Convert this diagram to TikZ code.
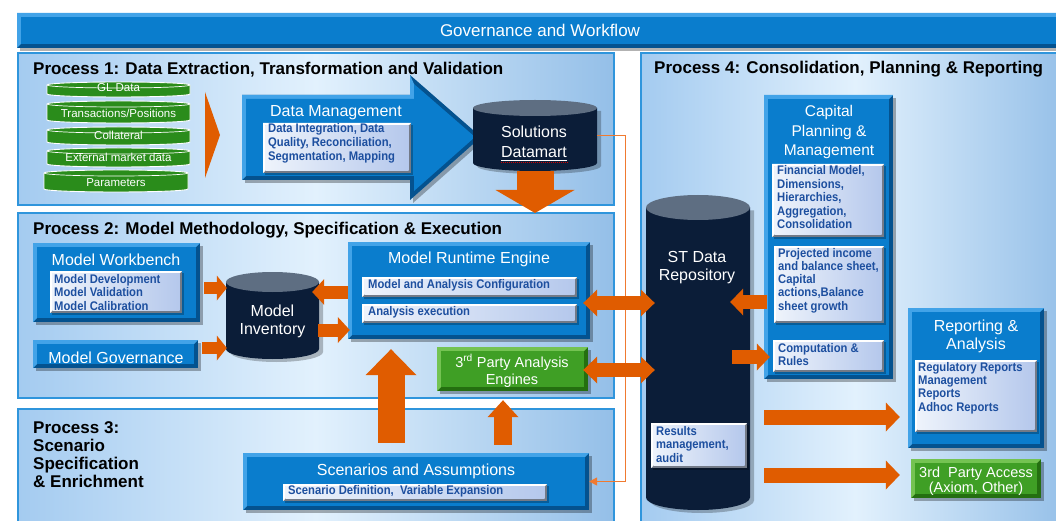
\documentclass[tikz,border=0pt]{standalone}
\usepackage{fontspec}
\setmainfont{Liberation Sans}
\newfontfamily\narrowfam[FakeStretch=0.9]{Liberation Sans}
\usetikzlibrary{arrows.meta,calc}

\definecolor{bbface}{HTML}{0A7DCD}
\definecolor{bblight}{HTML}{42A3E8}
\definecolor{bbdark}{HTML}{04528F}
\definecolor{pnlborder}{HTML}{2F95DC}
\definecolor{pnlL}{HTML}{A4CBF0}
\definecolor{pnlM}{HTML}{E2F1FD}
\definecolor{pnlR}{HTML}{94BFE8}
\definecolor{navy}{HTML}{0B1D38}
\definecolor{cyltop}{HTML}{5E6E82}
\definecolor{discgreen}{HTML}{2A8C1B}
\definecolor{gface}{HTML}{3F9F25}
\definecolor{glight}{HTML}{74C352}
\definecolor{gdark}{HTML}{246F10}
\definecolor{orarrow}{HTML}{E05C00}
\definecolor{thinor}{HTML}{F07A30}
\definecolor{inktext}{HTML}{1D4F9F}
\definecolor{lbL}{HTML}{EEF3FB}
\definecolor{lbR}{HTML}{B5C8EC}
\definecolor{lbdark}{HTML}{737A87}

% bevelled box: name x1 y1 x2 y2 light face dark
\newcommand\bevbox[8]{%
  \fill[black,opacity=.3] ({#2+3},{#3+3}) rectangle ({#4+3},{#5+3});
  \fill[#8] (#2,#3) rectangle (#4,#5);
  \fill[#6] (#2,#3) -- (#4,#3) -- ({#4-4},{#3+4}) -- ({#2+4},{#3+4}) -- ({#2+4},{#5-4}) -- (#2,#5) -- cycle;
  \fill[#7] ({#2+4},{#3+4}) rectangle ({#4-4},{#5-4});
  \node[inner sep=0pt, minimum width={(#4-#2)*1pt}, minimum height={(#5-#3)*1pt}] (#1) at ({(#2+#4)/2},{(#3+#5)/2}) {};
}
\newcommand\bluebox[5]{\bevbox{#1}{#2}{#3}{#4}{#5}{bblight}{bbface}{bbdark}}
\newcommand\greenbox[5]{\bevbox{#1}{#2}{#3}{#4}{#5}{glight}{gface}{gdark}}
% light inner box
\newcommand\litebox[5]{%
  \fill[black,opacity=.25] ({#2+2},{#3+2}) rectangle ({#4+2},{#5+2});
  \fill[lbdark] (#2,#3) rectangle (#4,#5);
  \fill[white] (#2,#3) -- (#4,#3) -- ({#4-2.5},{#3+2.5}) -- ({#2+2.5},{#3+2.5}) -- ({#2+2.5},{#5-2.5}) -- (#2,#5) -- cycle;
  \shade[left color=lbL, right color=lbR] ({#2+2.5},{#3+2.5}) rectangle ({#4-2.5},{#5-2.5});
  \node[inner sep=0pt, minimum width={(#4-#2)*1pt}, minimum height={(#5-#3)*1pt}] (#1) at ({(#2+#4)/2},{(#3+#5)/2}) {};
}
% cylinder: name cx ytop rx ybot ry
\newcommand\mycyl[6]{%
  \fill[black,opacity=.25] ({#2-#4+4},{#3+#6+3}) -- ({#2-#4+4},{#5-#6+3}) arc[start angle=180,end angle=360,x radius=#4pt,y radius=#6pt] -- ({#2+#4+4},{#3+#6+3}) -- cycle;
  \fill[navy] ({#2-#4},{#3+#6}) -- ({#2-#4},{#5-#6}) arc[start angle=180,end angle=360,x radius=#4pt,y radius=#6pt] -- ({#2+#4},{#3+#6}) -- cycle;
  \fill[cyltop] (#2,{#3+#6}) ellipse[x radius=#4pt, y radius=#6pt];
  \node[inner sep=0pt, minimum width={2*#4*1pt}, minimum height={(#5-#3)*1pt}] (#1) at (#2,{(#3+#5)/2}) {};
}
% data disc: name x1 y1 x2 y2 rx text
\newcommand\disc[7]{%
  \filldraw[fill=discgreen, draw=white, line width=0.9pt] (#2,{#3+3}) -- (#2,{#5-3}) arc[start angle=180,end angle=360,x radius=#6pt,y radius=3pt] -- (#4,{#3+3}) arc[start angle=0,end angle=180,x radius=#6pt,y radius=3pt] -- cycle;
  \draw[white, line width=.7pt] (#2,{#3+3}) arc[start angle=180,end angle=360,x radius=#6pt,y radius=3pt];
  \node[anchor=base, inner sep=0pt, text=white, font=\fontsize{11.5}{13}\selectfont] (#1) at ({(#2+#4)/2},{#5-5}) {#7};
}
% panel
\newcommand\panel[5]{%
  \shade[left color=pnlL, right color=pnlR, middle color=pnlM] (#2,#3) rectangle (#4,#5);
  \draw[pnlborder, line width=2pt] (#2,#3) rectangle (#4,#5);
  \node[inner sep=0pt, minimum width={(#4-#2)*1pt}, minimum height={(#5-#3)*1pt}] (#1) at ({(#2+#4)/2},{(#3+#5)/2}) {};
}
% lines of text: name x firstbaseline dy style list
\newcommand\txtlines[6]{%
  \foreach \tl [count=\ti from 0] in {#6} {
    \node[anchor=base, inner sep=0pt, #5] (#1\ti) at (#2,{#3+\ti*#4}) {\tl};
  }}

\tikzset{
  ttl/.style={text=white, font=\fontsize{16}{18}\selectfont},
  ttlsm/.style={text=white, font=\fontsize{14.5}{16}\selectfont},
  ttlcap/.style={text=white, font=\fontsize{15.5}{17}\selectfont},
  inner/.style={anchor=base west, inner sep=0pt, text=inktext, font=\narrowfam\bfseries\fontsize{12.5}{13.5}\selectfont},
  ptitle/.style={anchor=base west, inner sep=0pt, text=black, font=\bfseries\fontsize{17}{18}\selectfont},
  fat/.style n args={3}{draw=orarrow, line width=#1pt, -{Triangle[width=#2pt,length=#3pt,line width=0pt]}},
  fatboth/.style n args={3}{draw=orarrow, line width=#1pt, {Triangle[width=#2pt,length=#3pt,line width=0pt]}-{Triangle[width=#2pt,length=#3pt,line width=0pt]}},
}

\begin{document}
\begin{tikzpicture}[x=1pt,y=-1pt]
\useasboundingbox (0,0) rectangle (1056,521);
\fill[white] (0,0) rectangle (1056,521);

% ---------- panels ----------
\panel{p1}{18}{53}{614}{205}
\panel{p2}{18}{213}{614}{398}
\panel{p3}{18}{409}{614}{540}
\panel{p4}{641}{53}{1070}{540}

% ---------- governance bar ----------
\bevbox{gov}{17}{13}{1070}{48}{bblight}{bbface}{bbdark}
\node[anchor=base, inner sep=0pt, text=white, font=\fontsize{17}{19}\selectfont] (govt) at (540,37) {Governance and Workflow};

% ---------- titles ----------
\node[ptitle] (p1t) at (33,75) {Process 1: Data Extraction, Transformation and Validation};
\node[ptitle] (p2t) at (33,234) {Process 2: Model Methodology, Specification \& Execution};
\txtlines{p3t}{33}{433}{18}{ptitle}{{Process 3:},Scenario,Specification,{\& Enrichment}}
\node[ptitle] (p4t) at (654,74) {Process 4: Consolidation, Planning \& Reporting};

% ---------- Process 1 ----------
\disc{d1}{47}{82}{190}{97}{71.5}{GL Data}
\disc{d2}{47}{101}{190}{123}{71.5}{Transactions/Positions}
\disc{d3}{47}{127}{190}{145}{71.5}{Collateral}
\disc{d4}{47}{148}{190}{167}{71.5}{External market data}
\disc{d5}{44}{170}{188}{192}{72}{Parameters}
\fill[orarrow] (205,92) -- (220,135) -- (205,178) -- cycle;

% Data Management block arrow
\fill[black,opacity=.3] (245,98) -- (413,98) -- (413,78) -- (484,140) -- (413,203) -- (413,183) -- (245,183) -- cycle;
\fill[bbdark] (242,95) -- (410,95) -- (410,75) -- (481,137) -- (410,200) -- (410,180) -- (242,180) -- cycle;
\fill[bblight] (242,95) -- (410,95) -- (410,75) -- (414,84) -- (414,99) -- (246,99) -- (246,176) -- (242,180) -- cycle;
\fill[bbface] (246,99) -- (414,99) -- (414,84) -- (475,137) -- (414,191) -- (414,176) -- (246,176) -- cycle;
\node[inner sep=0pt, minimum width=239pt, minimum height=125pt] (dm) at (361.5,137.5) {};
\node[anchor=base, inner sep=0pt, ttl] (dmt) at (336,117) {Data Management};
\litebox{dmi}{263}{123}{411}{173}
\txtlines{dmil}{268}{133}{14}{inner}{{Data Integration, Data},{Quality, Reconciliation,},{Segmentation, Mapping}}

% Solutions Datamart
\mycyl{sdm}{535}{100}{62}{171}{8}
\txtlines{sdmt}{534}{138}{20}{ttl}{Solutions,Datamart}
\draw[white, line width=.7pt] ($(sdmt1.base west)+(0,2)$) -- ($(sdmt1.base east)+(0,2)$);
\draw[red!80!black, line width=1pt, dash pattern=on 1pt off 1pt] ($(sdmt1.base west)+(0,4.5)$) -- ($(sdmt1.base east)+(0,4.5)$);

% ---------- Process 2 ----------
\bluebox{wb}{33}{243}{200}{322}
\node[anchor=base, inner sep=0pt, ttl] (wbt) at (116,265) {Model Workbench};
\litebox{wbi}{50}{271}{182}{313}
\txtlines{wbil}{54}{283}{13.5}{inner}{{Model Development},{Model Validation},{Model Calibration}}
\bluebox{mg}{33}{340}{198}{368}
\node[anchor=base, inner sep=0pt, ttl] (mgt) at (116,363) {Model Governance};
\mycyl{inv}{272.5}{272}{46.5}{359}{10}
\txtlines{invt}{272.5}{316}{18}{ttl}{Model,Inventory}
\bluebox{mre}{348}{242}{590}{339}
\node[anchor=base, inner sep=0pt, ttl] (mret) at (469,263) {Model Runtime Engine};
\litebox{mre1}{362}{277}{577}{297}
\node[inner] (mre1t) at (368,288) {Model and Analysis Configuration};
\litebox{mre2}{362}{304}{577}{323}
\node[inner] (mre2t) at (368,315) {Analysis execution};
\greenbox{tpa}{437}{347}{588}{391}
\txtlines{tpat}{512}{367}{17}{ttlsm}{{3\textsuperscript{rd} Party Analysis},Engines}

% ---------- Process 3 ----------
\bluebox{sc}{243}{453}{589}{510}
\node[anchor=base, inner sep=0pt, ttl] (sct) at (416,475) {Scenarios and Assumptions};
\litebox{sci}{283}{484}{547}{501}
\node[inner] (scit) at (288,494) {Scenario Definition,\ \ Variable Expansion};

% ---------- Process 4 ----------
\mycyl{st}{698}{195}{52}{510}{12.5}
\txtlines{stt}{697}{262}{18}{ttl}{{ST Data},Repository}
\litebox{res}{651}{423}{747}{468}
\txtlines{resl}{656}{435}{13.5}{inner}{Results,{management,},audit}

\bluebox{cap}{764}{95}{893}{379}
\txtlines{capt}{829}{117}{19.5}{ttlcap}{Capital,{Planning \&},Management}
\litebox{cap1}{772}{164}{884}{237}
\txtlines{cap1l}{777}{175}{13.5}{inner}{{Financial Model,},{Dimensions,},{Hierarchies,},{Aggregation,},Consolidation}
\litebox{cap2}{774}{246}{884}{323}
\txtlines{cap2l}{778}{257}{13.3}{inner}{{Projected income},{and balance sheet,},Capital,{actions,Balance},{sheet growth}}
\litebox{cap3}{773}{340}{884}{372}
\txtlines{cap3l}{778}{352}{13}{inner}{{Computation \&},Rules}

\bluebox{rep}{908}{308}{1044}{448}
\txtlines{rept}{976}{331}{18}{ttl}{{Reporting \&},Analysis}
\litebox{repi}{915}{360}{1037}{432}
\txtlines{repil}{918}{371}{13.4}{inner}{{Regulatory Reports},Management,Reports,{Adhoc Reports}}

\greenbox{tpx}{911}{459}{1041}{498}
\txtlines{tpxt}{976}{477}{15}{ttlsm}{{3rd\ \ Party Access},{(Axiom, Other)}}

% ---------- connectors ----------
\coordinate (dmtip) at (535,213);
\draw[fat={37}{79}{23}] (sdm.south) -- (dmtip);
\draw[thinor, line width=1.2pt, -{Triangle[width=8pt,length=8pt]}] (sdm.east) -- ++(28,0) |- (sc.east);

\draw[fat={12}{25}{10}] ($(wb.east)+(4,5.5)$) -- ($(wb.east -| inv.west)+(1,5.5)$);
\draw[fat={12}{25}{10}] ($(mg.east)+(4,-6)$) -- ($(mg.east -| inv.west)+(1,-6)$);
\draw[fat={13}{26}{12}] ($(mre.west)+(0,1.5)$) -- ($(mre.west -| inv.east)+(-7,1.5)$);
\draw[fat={13}{26}{12}] ($(mre.west -| inv.east)+(-1,39.5)$) -- ($(mre.west)+(2,39.5)$);
\draw[fatboth={14}{27}{14}] ($(mre.east)+(-7,12.5)$) -- ($(mre.east -| st.west)+(9,12.5)$);
\draw[fatboth={14}{27}{14}] ($(tpa.east)+(-5,1)$) -- ($(tpa.east -| st.west)+(9,1)$);
\draw[fat={27}{51}{26}] ($(sc.north)+(-25,-10)$) -- ($(sc.north |- mre.south)+(-25,10)$);
\draw[fat={18}{31}{17}] ($(tpa.south |- sc.north)+(-9.5,-8)$) -- ($(tpa.south)+(-9.5,9)$);

\draw[fat={14}{27}{13}] ($(cap.west)+(3,65)$) -- ($(cap.west -| st.east)+(-20,65)$);
\draw[fat={14}{27}{13}] ($(cap3.west -| st.east)+(-18,1)$) -- ($(cap3.west)+(-3,1)$);
\draw[fat={15}{29}{14}] ($(rep.west -| st.east)+(14,39)$) -- ($(rep.west)+(-8,39)$);
\draw[fat={15}{29}{14}] ($(tpx.west -| st.east)+(14,-3.5)$) -- ($(tpx.west)+(-11,-3.5)$);
\end{tikzpicture}
\end{document}
